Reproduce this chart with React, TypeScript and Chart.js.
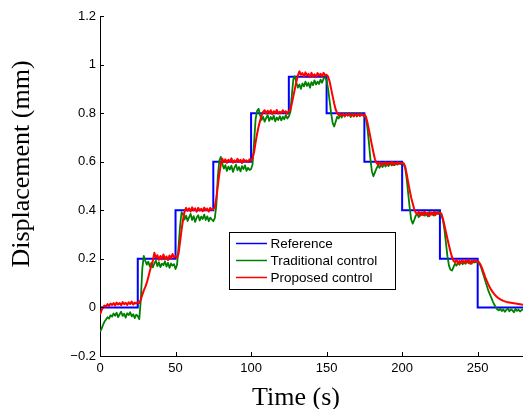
import React, { useEffect, useRef } from "react";
import { Chart, registerables } from "chart.js";

Chart.register(...registerables);

// Sampling interval of the measured responses (s)
const TIME_STEP_S = 1;

// Reference step command: level that starts at each time
const REF_TIMES = [0, 25, 50, 75, 100, 125, 150, 175, 200, 225, 250, 280];
const REF_LEVELS = [0, 0.2, 0.4, 0.6, 0.8, 0.95, 0.8, 0.6, 0.4, 0.2, 0, 0];

// Traditional control response, t = 0..280 s
const TRADITIONAL = [
  -0.100, -0.088, -0.072, -0.058, -0.050, -0.040, -0.046, -0.032, -0.038, -0.025,
  -0.034, -0.022, -0.040, -0.028, -0.018, -0.035, -0.026, -0.042, -0.024, -0.031,
  -0.020, -0.037, -0.028, -0.044, -0.030, -0.036, -0.048, 0.030, 0.160, 0.212,
  0.192, 0.176, 0.188, 0.168, 0.184, 0.165, 0.182, 0.192, 0.170, 0.186,
  0.166, 0.180, 0.174, 0.190, 0.168, 0.184, 0.163, 0.181, 0.172, 0.178,
  0.158, 0.175, 0.250, 0.335, 0.392, 0.384, 0.362, 0.378, 0.356, 0.372,
  0.385, 0.360, 0.376, 0.352, 0.370, 0.380, 0.358, 0.374, 0.364, 0.382,
  0.360, 0.375, 0.355, 0.370, 0.362, 0.355, 0.368, 0.420, 0.540, 0.605,
  0.620, 0.590, 0.572, 0.586, 0.562, 0.580, 0.568, 0.584, 0.558, 0.576,
  0.588, 0.565, 0.578, 0.560, 0.582, 0.570, 0.585, 0.562, 0.575, 0.566,
  0.570, 0.590, 0.680, 0.775, 0.810, 0.818, 0.790, 0.772, 0.785, 0.765,
  0.780, 0.792, 0.768, 0.784, 0.774, 0.790, 0.766, 0.782, 0.772, 0.788,
  0.770, 0.785, 0.775, 0.792, 0.778, 0.786, 0.805, 0.875, 0.940, 0.952,
  0.925, 0.905, 0.918, 0.900, 0.922, 0.910, 0.930, 0.912, 0.925, 0.905,
  0.928, 0.915, 0.935, 0.918, 0.930, 0.920, 0.938, 0.925, 0.942, 0.948,
  0.935, 0.900, 0.850, 0.800, 0.760, 0.745, 0.765, 0.785, 0.778, 0.795,
  0.782, 0.798, 0.786, 0.800, 0.790, 0.796, 0.784, 0.800, 0.788, 0.795,
  0.786, 0.800, 0.790, 0.798, 0.792, 0.788, 0.778, 0.740, 0.680, 0.610,
  0.560, 0.540, 0.556, 0.572, 0.585, 0.575, 0.590, 0.578, 0.592, 0.580,
  0.594, 0.582, 0.596, 0.585, 0.598, 0.586, 0.595, 0.588, 0.597, 0.590,
  0.595, 0.590, 0.575, 0.530, 0.470, 0.410, 0.362, 0.345, 0.360, 0.378,
  0.385, 0.372, 0.390, 0.380, 0.392, 0.378, 0.388, 0.375, 0.394, 0.382,
  0.390, 0.378, 0.393, 0.384, 0.395, 0.388, 0.380, 0.360, 0.320, 0.265,
  0.210, 0.172, 0.155, 0.152, 0.166, 0.180, 0.172, 0.186, 0.176, 0.190,
  0.178, 0.188, 0.180, 0.192, 0.183, 0.190, 0.180, 0.192, 0.185, 0.190,
  0.186, 0.180, 0.170, 0.150, 0.130, 0.110, 0.090, 0.070, 0.055, 0.040,
  0.025, 0.012, 0.000, -0.008, -0.012, -0.006, -0.015, -0.008, -0.018, -0.010,
  -0.005, -0.016, -0.008, -0.012, -0.020, -0.006, -0.014, -0.009, -0.017, -0.011,
  -0.008,
];

// Proposed control response, t = 0..280 s
const PROPOSED = [
  -0.030, -0.012, 0.000, 0.008, 0.004, 0.014, 0.006, 0.016, 0.010, 0.018,
  0.008, 0.020, 0.012, 0.018, 0.009, 0.022, 0.013, 0.019, 0.010, 0.021,
  0.014, 0.024, 0.012, 0.020, 0.016, 0.022, 0.018, 0.032, 0.052, 0.070,
  0.085, 0.102, 0.125, 0.150, 0.172, 0.192, 0.225, 0.205, 0.215, 0.196,
  0.212, 0.198, 0.218, 0.200, 0.210, 0.195, 0.214, 0.202, 0.220, 0.205,
  0.212, 0.205, 0.222, 0.270, 0.320, 0.362, 0.395, 0.410, 0.398, 0.408,
  0.395, 0.412, 0.400, 0.408, 0.394, 0.410, 0.399, 0.406, 0.396, 0.411,
  0.400, 0.407, 0.395, 0.410, 0.402, 0.405, 0.412, 0.450, 0.500, 0.550,
  0.590, 0.612, 0.598, 0.610, 0.595, 0.608, 0.600, 0.614, 0.596, 0.606,
  0.598, 0.612, 0.600, 0.608, 0.594, 0.610, 0.602, 0.606, 0.598, 0.610,
  0.605, 0.615, 0.640, 0.680, 0.715, 0.745, 0.770, 0.790, 0.805, 0.812,
  0.798, 0.810, 0.800, 0.812, 0.796, 0.808, 0.800, 0.813, 0.798, 0.806,
  0.800, 0.812, 0.802, 0.808, 0.798, 0.810, 0.812, 0.840, 0.870, 0.900,
  0.930, 0.955, 0.972, 0.958, 0.965, 0.950, 0.968, 0.955, 0.962, 0.948,
  0.966, 0.952, 0.960, 0.948, 0.965, 0.955, 0.962, 0.950, 0.966, 0.956,
  0.958, 0.950, 0.930, 0.900, 0.870, 0.840, 0.815, 0.800, 0.792, 0.798,
  0.790, 0.797, 0.788, 0.796, 0.790, 0.798, 0.789, 0.795, 0.786, 0.797,
  0.790, 0.796, 0.788, 0.795, 0.790, 0.795, 0.786, 0.762, 0.732, 0.700,
  0.668, 0.638, 0.610, 0.596, 0.588, 0.598, 0.585, 0.595, 0.590, 0.598,
  0.588, 0.596, 0.590, 0.600, 0.586, 0.595, 0.590, 0.598, 0.592, 0.596,
  0.592, 0.594, 0.580, 0.550, 0.515, 0.482, 0.452, 0.428, 0.405, 0.390,
  0.385, 0.395, 0.378, 0.392, 0.380, 0.394, 0.382, 0.390, 0.376, 0.392,
  0.382, 0.394, 0.380, 0.392, 0.385, 0.390, 0.386, 0.365, 0.338, 0.310,
  0.282, 0.255, 0.230, 0.208, 0.192, 0.186, 0.196, 0.180, 0.192, 0.184,
  0.195, 0.182, 0.194, 0.185, 0.196, 0.180, 0.192, 0.186, 0.195, 0.188,
  0.192, 0.185, 0.175, 0.160, 0.142, 0.125, 0.110, 0.096, 0.083, 0.072,
  0.063, 0.055, 0.048, 0.042, 0.037, 0.033, 0.030, 0.027, 0.025, 0.023,
  0.021, 0.020, 0.019, 0.018, 0.017, 0.016, 0.015, 0.014, 0.013, 0.012,
  0.011,
];

const X_TICKS = [0, 50, 100, 150, 200, 250];
const Y_TICKS = [-0.2, 0, 0.2, 0.4, 0.6, 0.8, 1, 1.2];
const SERIES_NAMES = ["Reference", "Traditional control", "Proposed control"];
const SERIES_COLORS = ["#0000ff", "#008000", "#ff0000"];
const X_TITLE = "Time (s)";
const Y_TITLE = "Displacement (mm)";

const TICK_FONT = "13px 'Liberation Sans', Arial, sans-serif";
const TITLE_FONT = "26px 'Liberation Serif', 'Times New Roman', serif";
const LEGEND_FONT = "13.5px 'Liberation Sans', Arial, sans-serif";

function fmtY(v: number): string {
  const r = Math.round(v * 10) / 10;
  if (r === 0) return "0";
  const s = String(Math.abs(r));
  return r < 0 ? "\u2212" + s : s;
}

const decorPlugin = {
  id: "decor",
  afterDraw(chart: any) {
    const { ctx, chartArea, scales } = chart;
    const xs = scales.x;
    const ys = scales.y;
    ctx.save();
    // inward tick marks
    ctx.strokeStyle = "#000";
    ctx.lineWidth = 1;
    ctx.beginPath();
    Y_TICKS.forEach((v) => {
      const y = Math.round(ys.getPixelForValue(v)) + 0.5;
      ctx.moveTo(chartArea.left, y);
      ctx.lineTo(chartArea.left + 4, y);
    });
    X_TICKS.forEach((v) => {
      const x = Math.round(xs.getPixelForValue(v)) + 0.5;
      ctx.moveTo(x, chartArea.bottom);
      ctx.lineTo(x, chartArea.bottom - 4);
    });
    ctx.stroke();

    // axis titles
    ctx.fillStyle = "#000";
    ctx.font = TITLE_FONT;
    ctx.textAlign = "center";
    ctx.textBaseline = "alphabetic";
    ctx.fillText(X_TITLE, chartArea.left + 196, chartArea.bottom + 49);
    ctx.save();
    ctx.translate(chartArea.left - 71, chartArea.top + 148);
    ctx.rotate(-Math.PI / 2);
    ctx.fillText(Y_TITLE, 0, 0);
    ctx.restore();

    // legend box
    const lx = chartArea.left + 129.5;
    const ly = chartArea.top + 216.5;
    const lw = 166;
    const lh = 57;
    ctx.fillStyle = "#fff";
    ctx.fillRect(lx, ly, lw, lh);
    ctx.strokeStyle = "#000";
    ctx.lineWidth = 1;
    ctx.strokeRect(lx, ly, lw, lh);
    ctx.font = LEGEND_FONT;
    ctx.textAlign = "left";
    ctx.textBaseline = "middle";
    SERIES_NAMES.forEach((name, i) => {
      const yy = ly + 11 + i * 17;
      ctx.strokeStyle = SERIES_COLORS[i];
      ctx.lineWidth = 1.5;
      ctx.beginPath();
      ctx.moveTo(lx + 6.5, yy);
      ctx.lineTo(lx + 37.5, yy);
      ctx.stroke();
      ctx.fillStyle = "#000";
      ctx.fillText(name, lx + 41, yy + 1);
    });
    ctx.restore();
  },
};

export default function App() {
  const canvasRef = useRef<HTMLCanvasElement | null>(null);

  useEffect(() => {
    const canvas = canvasRef.current;
    if (!canvas) return;
    const refData = REF_TIMES.map((t, i) => ({ x: t, y: REF_LEVELS[i] }));
    const tradData = TRADITIONAL.map((v, i) => ({ x: i * TIME_STEP_S, y: v }));
    const propData = PROPOSED.map((v, i) => ({ x: i * TIME_STEP_S, y: v }));

    const chart = new Chart(canvas, {
      type: "line",
      data: {
        datasets: [
          {
            label: SERIES_NAMES[0],
            data: refData,
            borderColor: SERIES_COLORS[0],
            borderWidth: 2,
            stepped: "before",
            pointRadius: 0,
            order: 3,
          },
          {
            label: SERIES_NAMES[1],
            data: tradData,
            borderColor: SERIES_COLORS[1],
            borderWidth: 1.8,
            pointRadius: 0,
            borderJoinStyle: "round",
            order: 2,
          },
          {
            label: SERIES_NAMES[2],
            data: propData,
            borderColor: SERIES_COLORS[2],
            borderWidth: 2,
            pointRadius: 0,
            borderJoinStyle: "round",
            order: 1,
          },
        ],
      },
      options: {
        animation: false,
        responsive: false,
        maintainAspectRatio: false,
        layout: { padding: { top: 16, right: 0, left: 0, bottom: 0 } },
        plugins: {
          legend: { display: false },
          tooltip: { enabled: false },
        },
        scales: {
          x: {
            type: "linear",
            min: 0,
            max: 280,
            grid: { display: false, drawTicks: false },
            border: { display: true, color: "#000", width: 1 },
            afterBuildTicks: (scale: any) => {
              scale.ticks = X_TICKS.map((v) => ({ value: v }));
            },
            afterFit: (scale: any) => {
              scale.height = 53;
            },
            ticks: {
              color: "#000",
              font: { family: "'Liberation Sans', Arial, sans-serif", size: 13 },
              padding: 5,
              maxRotation: 0,
              autoSkip: false,
              callback: (v: any) => String(v),
            },
          },
          y: {
            type: "linear",
            min: -0.2,
            max: 1.2,
            grid: { display: false, drawTicks: false },
            border: { display: true, color: "#000", width: 1 },
            afterBuildTicks: (scale: any) => {
              scale.ticks = Y_TICKS.map((v) => ({ value: v }));
            },
            afterFit: (scale: any) => {
              scale.width = 100;
            },
            ticks: {
              color: "#000",
              font: { family: "'Liberation Sans', Arial, sans-serif", size: 13 },
              padding: 4,
              autoSkip: false,
              callback: (v: any) => fmtY(Number(v)),
            },
          },
        },
      },
      plugins: [decorPlugin],
    });
    return () => chart.destroy();
  }, []);

  return (
    <div style={{ position: "fixed", left: 0, top: 0, width: 523, height: 409, background: "#fff" }}>
      <canvas ref={canvasRef} width={523} height={409} style={{ display: "block", width: 523, height: 409 }} />
    </div>
  );
}
